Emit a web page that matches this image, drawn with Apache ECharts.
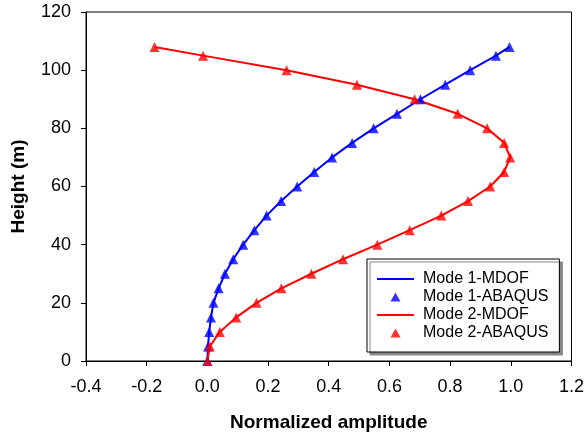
<!DOCTYPE html>
<html>
<head>
<meta charset="utf-8">
<script src="https://cdn.jsdelivr.net/npm/echarts@6/dist/echarts.min.js"></script>
<style>
html,body{margin:0;padding:0;background:#fff;}
#c{width:587px;height:437px;}
</style>
</head>
<body>
<div id="c"></div>
<script>
var heights = [0, 5, 10, 15, 20, 25, 30, 35, 40, 45, 50, 55, 60, 65, 70, 75, 80, 85, 90, 95, 100, 105, 108];
var mode1 = [0, 0.002, 0.006, 0.012, 0.020, 0.037, 0.058, 0.085, 0.118, 0.155, 0.195, 0.243, 0.296, 0.352, 0.411, 0.477, 0.548, 0.625, 0.702, 0.784, 0.866, 0.951, 0.996];
var mode2 = [0, 0.008, 0.041, 0.095, 0.162, 0.244, 0.343, 0.447, 0.560, 0.667, 0.771, 0.859, 0.932, 0.978, 0.998, 0.978, 0.922, 0.825, 0.683, 0.493, 0.261, -0.014, -0.174];
var seriesNames = ['Mode 1-MDOF', 'Mode 1-ABAQUS', 'Mode 2-MDOF', 'Mode 2-ABAQUS'];
var xTitle = 'Normalized amplitude';
var yTitle = 'Height (m)';

function pairs(xs) { return xs.map(function (v, i) { return [v, heights[i]]; }); }

var FONT = 'Liberation Sans, Arial, sans-serif';
// legend icons: invisible corner moves keep the icon box at itemWidth x itemHeight
var LINE_ICON = 'path://M0,0M37,10M0,4L37,4L37,6L0,6Z';
var TRI_ICON = 'path://M0,0M37,10M18.5,0.5L23.5,9.5L13.5,9.5Z';

var chart = echarts.init(document.getElementById('c'), null, {renderer: 'canvas'});
chart.setOption({
  animation: false,
  backgroundColor: '#fff',
  grid: {left: 86, right: 14, top: 12, bottom: 75, show: true, borderColor: '#000', borderWidth: 1, backgroundColor: 'transparent'},
  xAxis: {
    type: 'value', min: -0.4, max: 1.2, interval: 0.2,
    name: xTitle, nameLocation: 'middle', nameGap: 52,
    nameTextStyle: {fontFamily: FONT, fontSize: 19, fontWeight: 'bold', color: '#000'},
    axisLine: {onZero: false, lineStyle: {color: '#000', width: 1}},
    axisTick: {show: true, inside: false, length: 5, lineStyle: {color: '#000'}},
    axisLabel: {fontFamily: FONT, fontSize: 18, color: '#000', margin: 17,
      formatter: function (v) { return v.toFixed(1); }},
    splitLine: {show: false}
  },
  yAxis: {
    type: 'value', min: 0, max: 120, interval: 20,
    name: yTitle, nameLocation: 'middle', nameGap: 58,
    nameTextStyle: {fontFamily: FONT, fontSize: 19, fontWeight: 'bold', color: '#000'},
    axisLine: {onZero: false, lineStyle: {color: '#000', width: 1}},
    axisTick: {show: true, inside: false, length: 5, lineStyle: {color: '#000'}},
    axisLabel: {fontFamily: FONT, fontSize: 18, color: '#000', margin: 15},
    splitLine: {show: false}
  },
  legend: {
    orient: 'vertical', left: 367, top: 259,
    padding: [12, 11, 11, 10],
    itemWidth: 37, itemHeight: 10, itemGap: 2,
    backgroundColor: '#fff', borderColor: '#000', borderWidth: 1,
    shadowColor: '#888', shadowOffsetX: 3, shadowOffsetY: 3, shadowBlur: 0,
    textStyle: {fontFamily: FONT, fontSize: 16, color: '#000', lineHeight: 16, padding: [0, 0, 0, 4]},
    data: [
      {name: seriesNames[0], icon: LINE_ICON},
      {name: seriesNames[1], icon: TRI_ICON},
      {name: seriesNames[2], icon: LINE_ICON},
      {name: seriesNames[3], icon: TRI_ICON}
    ]
  },
  series: [
    {name: seriesNames[0], type: 'line', data: pairs(mode1), symbol: 'none', lineStyle: {color: '#0000FF', width: 2}, itemStyle: {color: '#0000FF'}, z: 2},
    {name: seriesNames[1], type: 'scatter', data: pairs(mode1), symbol: 'triangle', symbolSize: 10, itemStyle: {color: '#0000FF'}, z: 3},
    {name: seriesNames[2], type: 'line', data: pairs(mode2), symbol: 'none', lineStyle: {color: '#FF0000', width: 2}, itemStyle: {color: '#FF0000'}, z: 2},
    {name: seriesNames[3], type: 'scatter', data: pairs(mode2), symbol: 'triangle', symbolSize: 10, itemStyle: {color: '#FF0000'}, z: 3}
  ]
});
</script>
</body>
</html>
